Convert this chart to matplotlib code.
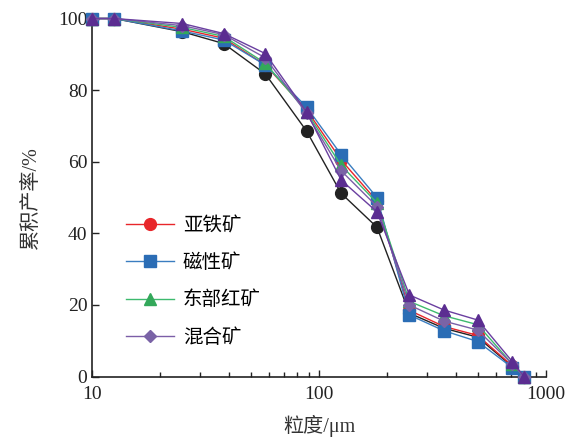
import matplotlib
matplotlib.use('Agg')
import matplotlib.pyplot as plt

plt.rcParams['font.family'] = ['Liberation Serif', 'Noto Sans CJK SC']

# 粒度 (um)
size = [10, 12.5, 25, 38, 58, 88, 125, 180, 250, 355, 500, 710, 800]

# 累积产率 (%)
yafe = [100, 100, 97.0, 94.5, 87.0, 74.5, 60.5, 49.0, 18.5, 14.0, 11.5, 3.0, 0]
cixing = [100, 100, 96.5, 94.0, 87.0, 75.3, 62.0, 50.0, 17.2, 12.8, 9.8, 2.5, 0]
dongbu = [100, 100, 97.5, 95.0, 87.5, 74.0, 59.0, 48.5, 21.0, 17.0, 14.5, 3.5, 0]
hunhe = [100, 100, 98.0, 95.5, 89.0, 73.5, 57.5, 47.5, 20.0, 15.5, 13.0, 3.5, 0]
# two extra curves drawn without legend entry
black = [100, 100, 96.3, 93.0, 84.5, 68.6, 51.2, 41.7, 17.7, 13.5, 11.0, 2.8, 0]
purple_tri = [100, 100, 98.6, 95.8, 90.2, 73.9, 54.9, 46.0, 22.8, 18.6, 15.8, 4.2, 0]

labels = ['亚铁矿', '磁性矿', '东部红矿', '混合矿']

fig = plt.figure(figsize=(5.76, 4.41), dpi=100)
ax = fig.add_axes([0.16, 0.146, 0.788, 0.812])

ms = 8.5
ax.plot(size, black, color='#222222', marker='o', ms=ms, lw=1, clip_on=False, zorder=3)
ax.plot(size, yafe, color='#e8262a', marker='o', ms=ms, lw=1, label=labels[0], clip_on=False, zorder=4)
ax.plot(size, cixing, color='#3a7dc0', marker='s', ms=ms - 0.5, mfc='#2b6db5', mec='#2b6db5',
        lw=1, label=labels[1], clip_on=False, zorder=5)
ax.plot(size, dongbu, color='#3dba6e', marker='^', ms=ms, mfc='#33a85a', mec='#33a85a',
        lw=1, label=labels[2], clip_on=False, zorder=6)
ax.plot(size, hunhe, color='#7b5ea7', marker='D', ms=ms - 2, mfc='#7a63a6', mec='#7a63a6',
        lw=1, label=labels[3], clip_on=False, zorder=7)
ax.plot(size, purple_tri, color='#6a3fa0', marker='^', ms=ms, mfc='#5b2d91', mec='#5b2d91',
        lw=1, clip_on=False, zorder=8)

ax.set_xscale('log')
ax.set_xlim(10, 1000)
ax.set_ylim(0, 100)
ax.set_xticks([10, 100, 1000])
ax.set_xticklabels(['10', '100', '1000'])
ax.set_yticks([0, 20, 40, 60, 80, 100])

for s in ['top', 'right']:
    ax.spines[s].set_visible(False)
for s in ['left', 'bottom']:
    ax.spines[s].set_linewidth(1.2)
    ax.spines[s].set_color('#222222')

ax.tick_params(which='major', direction='in', length=5, width=1, labelsize=14, colors='#222222')
ax.tick_params(which='minor', direction='in', length=3.5, width=1, colors='#222222')
ax.tick_params(axis='x', pad=7)

ax.set_xlabel('粒度/μm', fontsize=14.5, color='#333333', labelpad=8)
ax.set_ylabel('累积产率/%', fontsize=14.5, color='#333333', labelpad=12)

ax.legend(loc='lower left', bbox_to_anchor=(0.035, 0.035), frameon=False, fontsize=14,
          handlelength=2.5, labelspacing=0.95, handletextpad=0.45)

fig.savefig('out.png', dpi=100)
